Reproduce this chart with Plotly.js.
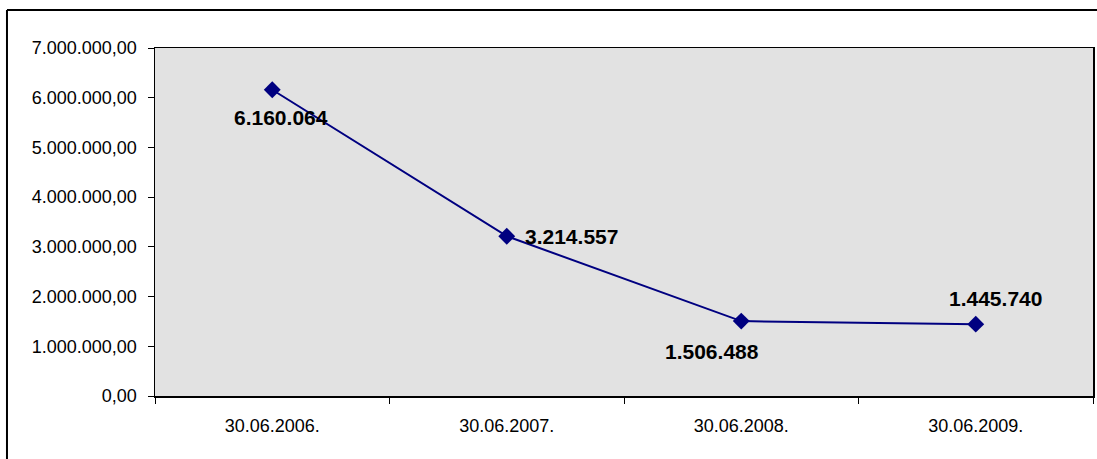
<!DOCTYPE html>
<html>
<head>
<meta charset="utf-8">
<script src="https://cdn.plot.ly/plotly-3.0.1.min.js"></script>
<style>
html,body{margin:0;padding:0;background:#fff;}
#chart{width:1097px;height:459px;}
</style>
</head>
<body>
<div id="chart"></div>
<script>
var categories = ["30.06.2006.", "30.06.2007.", "30.06.2008.", "30.06.2009."];
var values = [6160064, 3214557, 1506488, 1445740];
var yTickVals = [0, 1000000, 2000000, 3000000, 4000000, 5000000, 6000000, 7000000];

// label offsets (pixels) relative to each point
var labelShiftX = [9, 65, -29, 20];
var labelShiftY = [-28, 0, -30, 26];

function fmt(v) {
  return String(v).replace(/\B(?=(\d{3})+(?!\d))/g, ".");
}

var FONT = "Arial, 'Liberation Sans', sans-serif";

var trace = {
  x: categories,
  y: values,
  type: "scatter",
  mode: "lines+markers",
  line: {color: "#000080", width: 2},
  marker: {symbol: "diamond", size: 13, color: "#000080"},
  hoverinfo: "none"
};

var annotations = categories.map(function (c, i) {
  return {
    x: c, y: values[i], xref: "x", yref: "y",
    text: fmt(values[i]),
    showarrow: false,
    xanchor: "center", yanchor: "middle",
    xshift: labelShiftX[i], yshift: labelShiftY[i],
    font: {family: FONT, size: 21, color: "#000", weight: "bold"}
  };
});

var layout = {
  width: 1097, height: 459,
  margin: {l: 155, r: 4, t: 48, b: 63},
  paper_bgcolor: "#ffffff",
  plot_bgcolor: "#e2e2e2",
  separators: ",.",
  showlegend: false,
  font: {family: FONT, size: 18, color: "#000"},
  xaxis: {
    type: "category",
    range: [-0.5, 3.5],
    tickson: "boundaries",
    ticks: "outside", ticklen: 6, tickcolor: "#000", tickwidth: 1,
    showline: true, linecolor: "#000", linewidth: 1.5, mirror: true,
    showgrid: false, zeroline: false,
    ticklabelstandoff: 13,
    tickfont: {family: FONT, size: 18, color: "#000"}
  },
  yaxis: {
    range: [0, 7000000],
    tickvals: yTickVals,
    tickformat: ",.2f",
    ticks: "outside", ticklen: 6, tickcolor: "#000", tickwidth: 1,
    showline: true, linecolor: "#000", linewidth: 1.5, mirror: true,
    showgrid: false, zeroline: false,
    ticklabelstandoff: 7,
    tickfont: {family: FONT, size: 18, color: "#000"}
  },
  annotations: annotations,
  shapes: [
    {type: "line", xref: "paper", yref: "paper", x0: -0.1578, x1: -0.1578, y0: 1.1092, y1: -0.19,
     line: {color: "#000", width: 2}},
    {type: "line", xref: "paper", yref: "paper", x0: -0.1578, x1: 1.01, y0: 1.1092, y1: 1.1092,
     line: {color: "#000", width: 2}}
  ]
};

Plotly.newPlot("chart", [trace], layout, {displayModeBar: false, staticPlot: true});
</script>
</body>
</html>
